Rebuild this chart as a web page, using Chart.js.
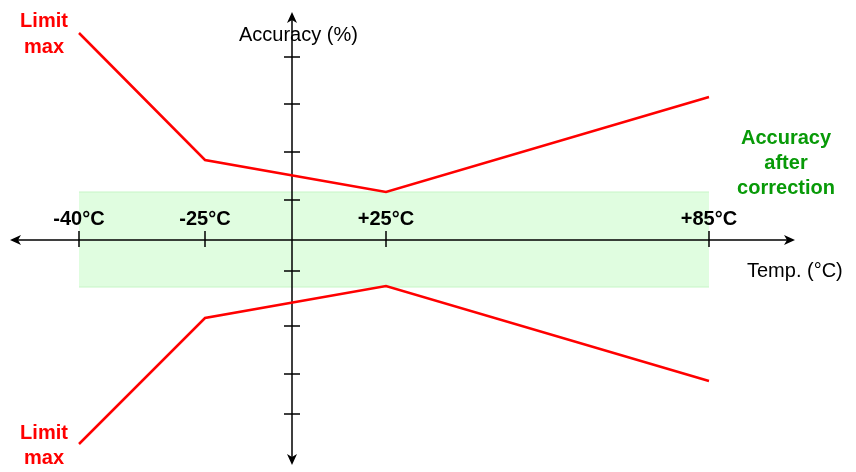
<!DOCTYPE html>
<html>
<head>
<meta charset="utf-8">
<script src="https://cdn.jsdelivr.net/npm/chart.js@4.4.1/dist/chart.umd.min.js"></script>
<style>
  html,body{margin:0;padding:0;background:#fff}
  #wrap{width:856px;height:472px;position:relative}
</style>
</head>
<body>
<div id="wrap"><canvas id="chart"></canvas></div>
<script>
// schematic diagram units (origin where the two axes cross)
const tempLabels = ['-40°C', '-25°C', '+25°C', '+85°C'];
const tempPos    = [-21.3, -8.7, 9.4, 41.7];
const limitUpper = [20.7, 8.0, 4.8, 14.3];
const limitLower = [-20.4, -7.8, -4.6, -14.1];
const bandTop = 4.8, bandBottom = -4.7;
const accTicks = [18.3, 13.6, 8.8, 4.0, -3.1, -8.6, -13.4, -17.4];

const FONT = '"Liberation Sans", Arial, sans-serif';
const RED = '#ff0000', GREEN = '#089a08';

const pts = (ys) => tempPos.map((x, i) => ({x, y: ys[i]}));

function arrow(ctx, tx, ty, ang){
  ctx.save();
  ctx.translate(tx, ty); ctx.rotate(ang);
  ctx.beginPath();
  ctx.moveTo(0, 0); ctx.lineTo(-11, -5); ctx.lineTo(-8, 0); ctx.lineTo(-11, 5);
  ctx.closePath(); ctx.fill();
  ctx.restore();
}

function drawAxes(chart){
  const {ctx, scales:{x, y}} = chart;
  const ox = x.getPixelForValue(0), oy = y.getPixelForValue(0);
  ctx.save();
  ctx.strokeStyle = '#000'; ctx.fillStyle = '#000'; ctx.lineWidth = 1.5;
  const xl = x.getPixelForValue(-28.2), xr = x.getPixelForValue(50.3);
  const yt = y.getPixelForValue(22.8), yb = y.getPixelForValue(-22.5);
  ctx.beginPath();
  ctx.moveTo(xl + 2, oy); ctx.lineTo(xr - 2, oy);
  ctx.moveTo(ox, yt + 2); ctx.lineTo(ox, yb - 2);
  // temperature ticks
  tempPos.forEach(v => { const px = x.getPixelForValue(v); ctx.moveTo(px, oy - 9); ctx.lineTo(px, oy + 7); });
  // accuracy ticks
  accTicks.forEach(v => { const py = y.getPixelForValue(v); ctx.moveTo(ox - 8, py); ctx.lineTo(ox + 8, py); });
  ctx.stroke();
  arrow(ctx, xl, oy, Math.PI);
  arrow(ctx, xr, oy, 0);
  arrow(ctx, ox, yt, -Math.PI / 2);
  arrow(ctx, ox, yb, Math.PI / 2);
  ctx.restore();
}

function drawTexts(chart){
  const {ctx, scales:{x, y}} = chart;
  const ox = x.getPixelForValue(0), oy = y.getPixelForValue(0);
  ctx.save();
  ctx.textBaseline = 'alphabetic';
  // tick labels
  ctx.font = 'bold 20px ' + FONT; ctx.fillStyle = '#000'; ctx.textAlign = 'center';
  tempLabels.forEach((t, i) => ctx.fillText(t, x.getPixelForValue(tempPos[i]), oy - 15));
  // axis titles
  ctx.font = '20px ' + FONT; ctx.textAlign = 'left';
  ctx.fillText('Accuracy (%)', ox - 53, 41);
  ctx.fillText('Temp. (°C)', 747, oy + 37);
  // limit labels
  ctx.font = 'bold 20px ' + FONT; ctx.fillStyle = RED; ctx.textAlign = 'center';
  const lx = x.getPixelForValue(tempPos[0]) - 35;
  ctx.fillText('Limit', lx, 27); ctx.fillText('max', lx, 53);
  ctx.fillText('Limit', lx, 439); ctx.fillText('max', lx, 464);
  // band label
  ctx.fillStyle = GREEN;
  const gx = x.getPixelForValue(tempPos[3]) + 77;
  ctx.fillText('Accuracy', gx, 144); ctx.fillText('after', gx, 169); ctx.fillText('correction', gx, 194);
  ctx.restore();
}

const diagram = {
  id: 'diagram',
  beforeDatasetDraw(chart, args){ if (args.index === 1) drawAxes(chart); },
  afterDraw(chart){ drawTexts(chart); }
};

new Chart(document.getElementById('chart'), {
  type: 'line',
  data: {
    datasets: [
      {label: 'Limit max', data: pts(limitUpper), borderColor: RED, borderWidth: 2.5, pointRadius: 0, tension: 0, fill: false},
      {label: 'Limit max', data: pts(limitLower), borderColor: RED, borderWidth: 2.5, pointRadius: 0, tension: 0, fill: false},
      {label: 'band top', data: [{x: tempPos[0], y: bandTop}, {x: tempPos[3], y: bandTop}], borderColor: '#c6f5c6', borderWidth: 1, pointRadius: 0, fill: false},
      {label: 'Accuracy after correction', data: [{x: tempPos[0], y: bandBottom}, {x: tempPos[3], y: bandBottom}], borderColor: '#c6f5c6', borderWidth: 1, pointRadius: 0, fill: '-1', backgroundColor: '#e0fde0'}
    ]
  },
  options: {
    responsive: true, maintainAspectRatio: false, animation: false,
    layout: {padding: 0},
    plugins: {legend: {display: false}, tooltip: {enabled: false}},
    scales: {
      x: {type: 'linear', min: -29.2, max: 56.4, display: false},
      y: {type: 'linear', min: -23.2, max: 24.0, display: false}
    }
  },
  plugins: [diagram]
});
</script>
</body>
</html>
